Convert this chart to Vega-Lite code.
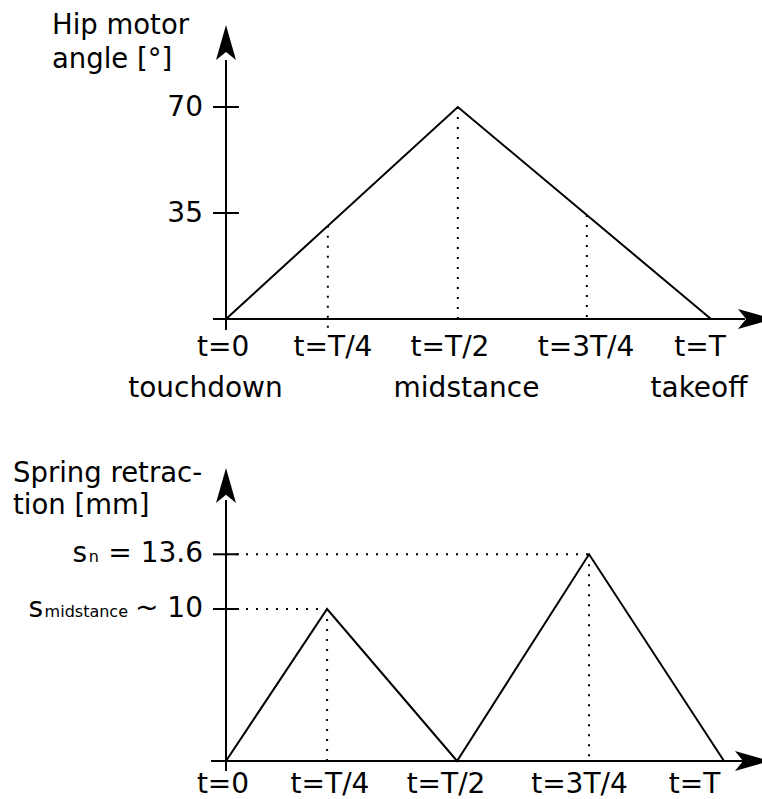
{
  "$schema": "https://vega.github.io/schema/vega-lite/v6.json",
  "padding": 0,
  "spacing": 0,
  "bounds": "flush",
  "config": {
    "view": {"stroke": null},
    "text": {"font": "DejaVu Sans", "fontSize": 28, "color": "black"}
  },
  "datasets": {
    "hipAxes": [
      {"t0": -0.0268, "t1": 1.07, "a0": 0, "a1": 0},
      {"t0": 0, "t1": 0, "a0": -3.6, "a1": 85.5}
    ],
    "hipArrows": [
      {"t": 1.0918, "a": 0, "dir": "right"},
      {"t": 0, "a": 91.3, "dir": "up"}
    ],
    "hip": [
      {"t": 0, "angle": 0},
      {"t": 0.478, "angle": 70},
      {"t": 1, "angle": 0}
    ],
    "hipTicks": [
      {"t": 0, "angle": 70, "label": "70"},
      {"t": 0, "angle": 35, "label": "35"}
    ],
    "hipGuides": [
      {"t": 0.21, "top": 30.8, "bottom": -3},
      {"t": 0.478, "top": 70, "bottom": 0},
      {"t": 0.744, "top": 34.3, "bottom": 0}
    ],
    "hipLabels": [
      {"t": -0.006, "a": -12.2, "label": "t=0"},
      {"t": 0.2206, "a": -12.2, "label": "t=T/4"},
      {"t": 0.4619, "a": -12.2, "label": "t=T/2"},
      {"t": 0.7423, "a": -12.2, "label": "t=3T/4"},
      {"t": 0.9773, "a": -12.2, "label": "t=T"},
      {"t": -0.0423, "a": -25.75, "label": "touchdown"},
      {"t": 0.4959, "a": -25.75, "label": "midstance"},
      {"t": 0.9753, "a": -25.75, "label": "takeoff"}
    ],
    "hipTitle": [{"t": -0.3588, "a": 94.1, "title": ["Hip motor", "angle [°]"]}],
    "springAxes": [
      {"t0": -0.0301, "t1": 1.042, "s0": 0, "s1": 0},
      {"t0": 0, "t1": 0, "s0": -0.66, "s1": 17.17}
    ],
    "springArrows": [
      {"t": 1.0572, "mm": 0, "dir": "right"},
      {"t": 0, "mm": 18.13, "dir": "up"}
    ],
    "spring": [
      {"t": 0, "mm": 0},
      {"t": 0.203, "mm": 10},
      {"t": 0.464, "mm": 0},
      {"t": 0.729, "mm": 13.6},
      {"t": 1, "mm": 0}
    ],
    "springMarks": [
      {"t0": 0, "base": 0, "mm": 13.6, "peak": 0.729, "sym": "s", "symAt": -0.2791, "sub": "n", "subAt": -0.255, "val": "= 13.6"},
      {"t0": 0, "base": 0, "mm": 10, "peak": 0.203, "sym": "s", "symAt": -0.3675, "sub": "midstance", "subAt": -0.1968, "val": "~ 10"}
    ],
    "springLabels": [
      {"t": -0.006, "mm": -2.105, "label": "t=0"},
      {"t": 0.2088, "mm": -2.105, "label": "t=T/4"},
      {"t": 0.4418, "mm": -2.105, "label": "t=T/2"},
      {"t": 0.7098, "mm": -2.105, "label": "t=3T/4"},
      {"t": 0.9408, "mm": -2.105, "label": "t=T"}
    ],
    "springTitle": [{"t": -0.4277, "mm": 18.36, "title": ["Spring retrac-", "tion [mm]"]}]
  },
  "vconcat": [
    {
      "width": 762,
      "height": 400,
      "layer": [
        {
          "data": {"name": "hipAxes"},
          "mark": {"type": "rule", "color": "black", "strokeWidth": 2},
          "encoding": {
            "x": {"field": "t0", "type": "quantitative", "axis": null,
                  "scale": {"domain": [-0.466, 1.1052], "nice": false, "zero": false}},
            "x2": {"field": "t1"},
            "y": {"field": "a0", "type": "quantitative", "axis": null,
                  "scale": {"domain": [-26.745, 105.33], "nice": false, "zero": false}},
            "y2": {"field": "a1"}
          }
        },
        {
          "data": {"name": "hipArrows"},
          "mark": {"type": "point", "filled": true, "size": 1225, "color": "black", "opacity": 1},
          "encoding": {
            "x": {"field": "t", "type": "quantitative", "axis": null},
            "y": {"field": "a", "type": "quantitative", "axis": null},
            "shape": {"field": "dir", "type": "nominal", "legend": null,
                      "scale": {"domain": ["right", "up"],
                                "range": ["M1,0L-1,-0.57L-0.54,0L-1,0.57Z", "M0,-1L0.57,1L0,0.54L-0.57,1Z"]}}
          }
        },
        {
          "data": {"name": "hipTicks"},
          "mark": {"type": "tick", "orient": "horizontal", "size": 26, "thickness": 2, "color": "black", "opacity": 1},
          "encoding": {
            "x": {"field": "t", "type": "quantitative", "axis": null},
            "y": {"field": "angle", "type": "quantitative", "axis": null}
          }
        },
        {
          "data": {"name": "hipTicks"},
          "mark": {"type": "text", "align": "right", "baseline": "middle", "dx": -23, "dy": 1},
          "encoding": {
            "x": {"field": "t", "type": "quantitative", "axis": null},
            "y": {"field": "angle", "type": "quantitative", "axis": null},
            "text": {"field": "label", "type": "nominal"}
          }
        },
        {
          "data": {"name": "hipGuides"},
          "mark": {"type": "rule", "color": "black", "strokeWidth": 2, "strokeDash": [2, 8]},
          "encoding": {
            "x": {"field": "t", "type": "quantitative", "axis": null},
            "y": {"field": "top", "type": "quantitative", "axis": null},
            "y2": {"field": "bottom"}
          }
        },
        {
          "data": {"name": "hip"},
          "mark": {"type": "line", "color": "black", "strokeWidth": 2},
          "encoding": {
            "x": {"field": "t", "type": "quantitative", "axis": null},
            "y": {"field": "angle", "type": "quantitative", "axis": null}
          }
        },
        {
          "data": {"name": "hipLabels"},
          "mark": {"type": "text", "align": "center", "baseline": "alphabetic"},
          "encoding": {
            "x": {"field": "t", "type": "quantitative", "axis": null},
            "y": {"field": "a", "type": "quantitative", "axis": null},
            "text": {"field": "label", "type": "nominal"}
          }
        },
        {
          "data": {"name": "hipTitle"},
          "mark": {"type": "text", "align": "left", "baseline": "alphabetic", "lineHeight": 34, "fontSize": 27.5},
          "encoding": {
            "x": {"field": "t", "type": "quantitative", "axis": null},
            "y": {"field": "a", "type": "quantitative", "axis": null},
            "text": {"field": "title", "type": "nominal"}
          }
        }
      ]
    },
    {
      "width": 762,
      "height": 399,
      "layer": [
        {
          "data": {"name": "springAxes"},
          "mark": {"type": "rule", "color": "black", "strokeWidth": 2},
          "encoding": {
            "x": {"field": "t0", "type": "quantitative", "axis": null,
                  "scale": {"domain": [-0.45382, 1.07631], "nice": false, "zero": false}},
            "x2": {"field": "t1"},
            "y": {"field": "s0", "type": "quantitative", "axis": null,
                  "scale": {"domain": [-2.5, 23.75], "nice": false, "zero": false}},
            "y2": {"field": "s1"}
          }
        },
        {
          "data": {"name": "springArrows"},
          "mark": {"type": "point", "filled": true, "size": 1225, "color": "black", "opacity": 1},
          "encoding": {
            "x": {"field": "t", "type": "quantitative", "axis": null},
            "y": {"field": "mm", "type": "quantitative", "axis": null},
            "shape": {"field": "dir", "type": "nominal", "legend": null,
                      "scale": {"domain": ["right", "up"],
                                "range": ["M1,0L-1,-0.57L-0.54,0L-1,0.57Z", "M0,-1L0.57,1L0,0.54L-0.57,1Z"]}}
          }
        },
        {
          "data": {"name": "springMarks"},
          "mark": {"type": "rule", "color": "black", "strokeWidth": 2, "strokeDash": [2, 8]},
          "encoding": {
            "x": {"field": "t0", "type": "quantitative", "axis": null},
            "x2": {"field": "peak"},
            "y": {"field": "mm", "type": "quantitative", "axis": null}
          }
        },
        {
          "data": {"name": "springMarks"},
          "mark": {"type": "rule", "color": "black", "strokeWidth": 2, "strokeDash": [2, 8]},
          "encoding": {
            "x": {"field": "peak", "type": "quantitative", "axis": null},
            "y": {"field": "mm", "type": "quantitative", "axis": null},
            "y2": {"field": "base"}
          }
        },
        {
          "data": {"name": "springMarks"},
          "mark": {"type": "tick", "orient": "horizontal", "size": 26, "thickness": 2, "color": "black", "opacity": 1},
          "encoding": {
            "x": {"field": "t0", "type": "quantitative", "axis": null},
            "y": {"field": "mm", "type": "quantitative", "axis": null}
          }
        },
        {
          "data": {"name": "spring"},
          "mark": {"type": "line", "color": "black", "strokeWidth": 2},
          "encoding": {
            "x": {"field": "t", "type": "quantitative", "axis": null},
            "y": {"field": "mm", "type": "quantitative", "axis": null}
          }
        },
        {
          "data": {"name": "springMarks"},
          "mark": {"type": "text", "align": "right", "baseline": "alphabetic", "dx": -23, "dy": 8},
          "encoding": {
            "x": {"field": "t0", "type": "quantitative", "axis": null},
            "y": {"field": "mm", "type": "quantitative", "axis": null},
            "text": {"field": "val", "type": "nominal"}
          }
        },
        {
          "data": {"name": "springMarks"},
          "mark": {"type": "text", "align": "right", "baseline": "alphabetic", "dy": 8},
          "encoding": {
            "x": {"field": "symAt", "type": "quantitative", "axis": null},
            "y": {"field": "mm", "type": "quantitative", "axis": null},
            "text": {"field": "sym", "type": "nominal"}
          }
        },
        {
          "data": {"name": "springMarks"},
          "mark": {"type": "text", "align": "right", "baseline": "alphabetic", "dy": 8, "fontSize": 16},
          "encoding": {
            "x": {"field": "subAt", "type": "quantitative", "axis": null},
            "y": {"field": "mm", "type": "quantitative", "axis": null},
            "text": {"field": "sub", "type": "nominal"}
          }
        },
        {
          "data": {"name": "springLabels"},
          "mark": {"type": "text", "align": "center", "baseline": "alphabetic"},
          "encoding": {
            "x": {"field": "t", "type": "quantitative", "axis": null},
            "y": {"field": "mm", "type": "quantitative", "axis": null},
            "text": {"field": "label", "type": "nominal"}
          }
        },
        {
          "data": {"name": "springTitle"},
          "mark": {"type": "text", "align": "left", "baseline": "alphabetic", "lineHeight": 32, "fontSize": 27.5},
          "encoding": {
            "x": {"field": "t", "type": "quantitative", "axis": null},
            "y": {"field": "mm", "type": "quantitative", "axis": null},
            "text": {"field": "title", "type": "nominal"}
          }
        }
      ]
    }
  ]
}
